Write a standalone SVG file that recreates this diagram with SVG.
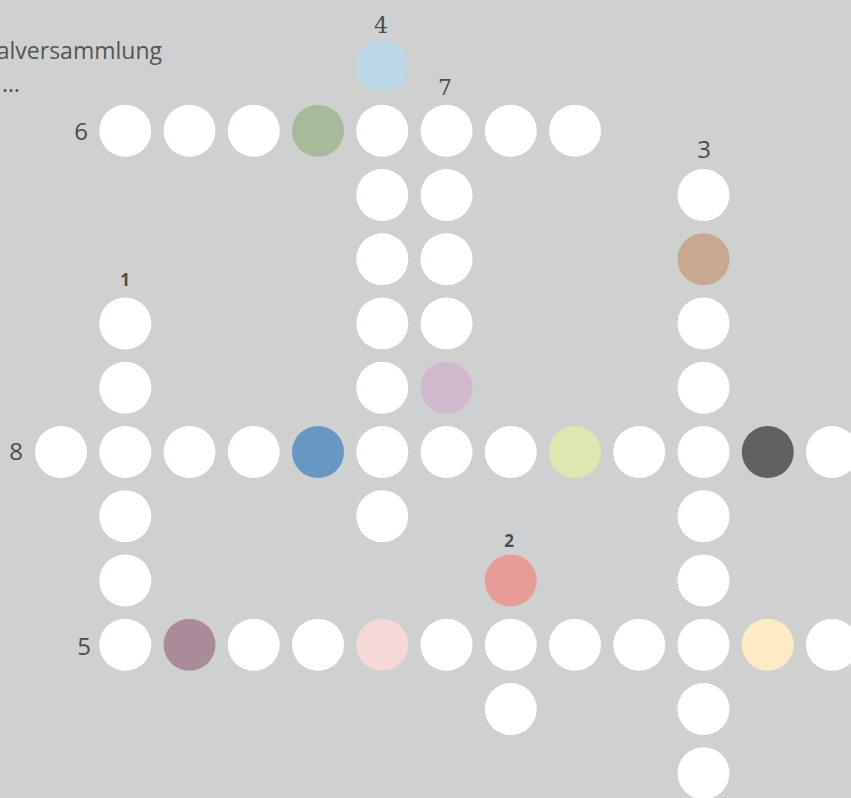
<svg xmlns="http://www.w3.org/2000/svg" width="851" height="798" viewBox="0 0 851 798">
<style>
.w{fill:#ffffff}
.lbl{font-family:"Open Sans","Noto Sans",sans-serif;font-size:24px;fill:#4d4d4d;text-anchor:middle}
.ser{font-family:"DejaVu Serif","Liberation Serif",serif;font-size:22px;fill:#4d4d4d;text-anchor:middle}
.sm{font-family:"Open Sans","Noto Sans",sans-serif;font-size:17px;font-weight:bold;fill:#4d4d4d;text-anchor:middle}
.ttl{font-family:"Open Sans","Noto Sans",sans-serif;font-size:23px;fill:#555555}
</style>
<rect width="851" height="798" fill="#cfd1d0"/>
<text class="ttl" x="162" y="59" text-anchor="end">alversammlung</text>
<text class="ttl" x="20" y="92" text-anchor="end">…</text>
<g id="connectors"/>
<g id="labels">
<text class="ser" x="381" y="33">4</text>
<text class="ser" x="445" y="95">7</text>
<text class="lbl" x="81" y="140">6</text>
<text class="lbl" x="704" y="158">3</text>
<text class="sm" x="125" y="286">1</text>
<text class="lbl" x="16" y="460">8</text>
<text class="sm" x="509" y="547">2</text>
<text class="lbl" x="84" y="655">5</text>
</g>
<g id="line4"><circle cx="382.25" cy="66.5" r="26" fill="#bcd8e6"/></g>
<g id="line6">
<circle class="w" cx="125.25" cy="130.75" r="26"/>
<circle class="w" cx="189.5" cy="130.75" r="26"/>
<circle class="w" cx="253.75" cy="130.75" r="26"/>
<circle cx="318" cy="130.75" r="26" fill="#a7bb9c"/>
<circle class="w" cx="382.25" cy="130.75" r="26"/>
<circle class="w" cx="446.5" cy="130.75" r="26"/>
<circle class="w" cx="510.75" cy="130.75" r="26"/>
<circle class="w" cx="575" cy="130.75" r="26"/>
</g>
<g id="line7">
<circle class="w" cx="382.25" cy="195" r="26"/>
<circle class="w" cx="446.5" cy="195" r="26"/>
<circle class="w" cx="382.25" cy="259.25" r="26"/>
<circle class="w" cx="446.5" cy="259.25" r="26"/>
<circle class="w" cx="382.25" cy="323.5" r="26"/>
<circle class="w" cx="446.5" cy="323.5" r="26"/>
<circle class="w" cx="382.25" cy="387.75" r="26"/>
<circle cx="446.5" cy="387.75" r="26" fill="#d1b9cd"/>
<circle class="w" cx="382.25" cy="516.25" r="26"/>
</g>
<g id="line3">
<circle class="w" cx="703.5" cy="195" r="26"/>
<circle cx="703.5" cy="259.25" r="26" fill="#c8a891"/>
<circle class="w" cx="703.5" cy="323.5" r="26"/>
<circle class="w" cx="703.5" cy="387.75" r="26"/>
<circle class="w" cx="703.5" cy="516.25" r="26"/>
<circle class="w" cx="703.5" cy="580.5" r="26"/>
<circle class="w" cx="703.5" cy="709" r="26"/>
<circle class="w" cx="703.5" cy="773.25" r="26"/>
</g>
<g id="line1">
<circle class="w" cx="125.25" cy="323.5" r="26"/>
<circle class="w" cx="125.25" cy="387.75" r="26"/>
<circle class="w" cx="125.25" cy="516.25" r="26"/>
<circle class="w" cx="125.25" cy="580.5" r="26"/>
</g>
<g id="line8">
<circle class="w" cx="61" cy="452" r="26"/>
<circle class="w" cx="125.25" cy="452" r="26"/>
<circle class="w" cx="189.5" cy="452" r="26"/>
<circle class="w" cx="253.75" cy="452" r="26"/>
<circle cx="318" cy="452" r="26" fill="#6797c3"/>
<circle class="w" cx="382.25" cy="452" r="26"/>
<circle class="w" cx="446.5" cy="452" r="26"/>
<circle class="w" cx="510.75" cy="452" r="26"/>
<circle cx="575" cy="452" r="26" fill="#dfe6b0"/>
<circle class="w" cx="639.25" cy="452" r="26"/>
<circle class="w" cx="703.5" cy="452" r="26"/>
<circle cx="767.75" cy="452" r="26" fill="#616161"/>
<circle class="w" cx="832" cy="452" r="26"/>
</g>
<g id="line2">
<circle cx="510.75" cy="580.5" r="26" fill="#e89c97"/>
<circle class="w" cx="510.75" cy="709" r="26"/>
</g>
<g id="line5">
<circle class="w" cx="125.25" cy="644.75" r="26"/>
<circle cx="189.5" cy="644.75" r="26" fill="#a98b9a"/>
<circle class="w" cx="253.75" cy="644.75" r="26"/>
<circle class="w" cx="318" cy="644.75" r="26"/>
<circle cx="382.25" cy="644.75" r="26" fill="#f5d9d7"/>
<circle class="w" cx="446.5" cy="644.75" r="26"/>
<circle class="w" cx="510.75" cy="644.75" r="26"/>
<circle class="w" cx="575" cy="644.75" r="26"/>
<circle class="w" cx="639.25" cy="644.75" r="26"/>
<circle class="w" cx="703.5" cy="644.75" r="26"/>
<circle cx="767.75" cy="644.75" r="26" fill="#fdebc5"/>
<circle class="w" cx="832" cy="644.75" r="26"/>
</g>
</svg>
